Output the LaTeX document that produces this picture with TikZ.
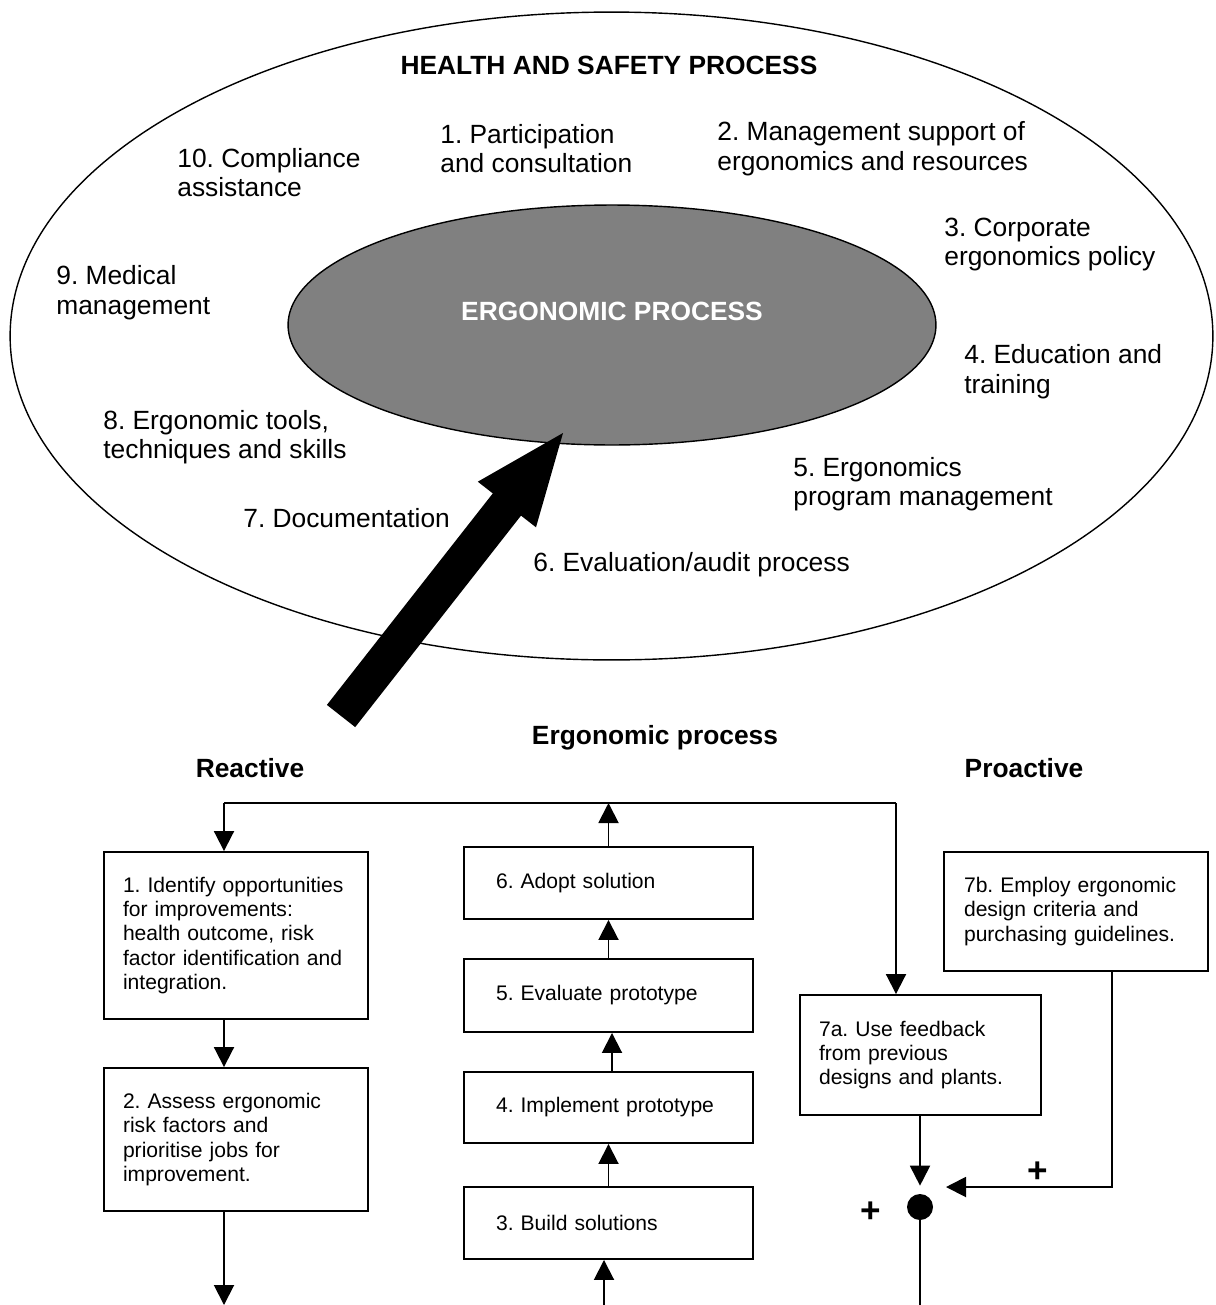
\documentclass[tikz,border=0pt]{standalone}
\usepackage{fontspec}
\setmainfont{Liberation Sans}
\usetikzlibrary{shapes.geometric,arrows.meta,calc}
\frenchspacing

\begin{document}
\begin{tikzpicture}
[x=0.02cm,y=-0.02cm,%
  txt/.style={anchor=west,align=left,inner sep=0pt,font=\fontsize{15}{16.8}\selectfont},%
  heading/.style={inner sep=0pt,font=\fontsize{15}{16.8}\selectfont\bfseries},%
  plus/.style={inner sep=0pt,font=\fontsize{20}{20}\selectfont\bfseries},%
  pbox/.style={draw,line width=1.1pt,align=left,inner ysep=0pt,font=\fontsize{12}{13.8}\selectfont},%
  midbox/.style={pbox,text width=4.5cm,inner xsep=0.64cm,minimum height=#1},%
  sidebox/.style={pbox,text width=4.52cm,inner xsep=0.38cm,minimum height=#1},%
  sumdot/.style={circle,fill,inner sep=0pt,minimum size=0.52cm},%
  arr/.style={-{Triangle[length=0.4cm,width=0.4cm]},line width=1.1pt}]
\useasboundingbox (0,0) rectangle (1215,1305);
\node[draw,ellipse,line width=0.8pt,inner sep=0pt,minimum width=24.06cm,minimum height=12.96cm] (hs) at (611.5,336) {};
\node[draw,ellipse,line width=0.8pt,fill=black!50,inner sep=0pt,minimum width=12.96cm,minimum height=4.8cm] (ergo) at (612,325) {};
\node[heading] (hstitle) at (609,65) {HEALTH AND SAFETY PROCESS};
\node[heading,text=white] (ergotitle) at (612,311) {ERGONOMIC PROCESS};
\node[txt] (e1) at (440,148.5) {1. Participation\\and consultation};
\node[txt] (e2) at (717,148.5) {2. Management support of\\ergonomics and resources};
\node[txt] (e3) at (944,244.5) {3. Corporate\\ergonomics policy};
\node[txt] (e4) at (964,371.5) {4. Education and\\training};
\node[txt] (e5) at (793,484) {5. Ergonomics\\program management};
\node[txt] (e6) at (533,565) {6. Evaluation/audit process};
\node[txt] (e7) at (243,518) {7. Documentation};
\node[txt] (e8) at (103,437) {8. Ergonomic tools,\\techniques and skills};
\node[txt] (e9) at (56,292.5) {9. Medical\\management};
\node[txt] (e10) at (177,172.5) {10. Compliance\\assistance};
\fill (326.9,704.9) -- (492.8,493.4) -- (477.8,481.7) -- (563,433) -- (536.0,527.3)
  -- (521.0,515.6) -- (355.2,727.1) -- cycle;
\node[heading] (eptitle) at (655,738) {Ergonomic process};
\node[heading] (reactive) at (250,768) {Reactive};
\node[heading] (proactive) at (1024,768) {Proactive};
\node[sidebox=3.34cm] (s1) at (236,935.5) {1. Identify opportunities\\for improvements:\\health outcome, risk\\factor identification and\\integration.};
\node[sidebox=2.86cm] (s2) at (236,1139.5) {2. Assess ergonomic\\risk factors and\\prioritise jobs for\\improvement.};
\node[midbox=1.44cm] (s6) at (608.5,883) {6. Adopt solution};
\node[midbox=1.46cm] (s5) at (608.5,995.5) {5. Evaluate prototype};
\node[midbox=1.42cm] (s4) at (608.5,1107.5) {4. Implement prototype};
\node[midbox=1.44cm] (s3) at (608.5,1223) {3. Build solutions};
\node[pbox,text width=4.06cm,inner xsep=0.38cm,minimum height=2.4cm] (s7a) at (920.5,1055) {7a. Use feedback\\from previous\\designs and plants.};
\node[pbox,text width=4.48cm,inner xsep=0.4cm,minimum height=2.38cm] (s7b) at (1076,911.5) {7b. Employ ergonomic\\design criteria and\\purchasing guidelines.};
\node[sumdot] (sum) at (920,1207) {};
\node[plus] (plusb) at (1038,1172) {+};
\node[plus] (plusa) at (871,1212) {+};
\coordinate (tl) at (224,803);
\coordinate (tr) at (896,803);
\coordinate (outl) at (224,1305);
\coordinate (inb) at (604,1305);
\coordinate (bend) at (1112,1187);
\coordinate (sumin) at (946,1187);
\draw[line width=1.1pt] (tl) -- (tr);
\draw[arr] (tl) -- (tl |- s1.north);
\draw[arr] (tr) -- (tr |- s7a.north);
\draw[arr] (tl |- s1.south) -- (tl |- s2.north);
\draw[arr] (tl |- s2.south) -- (outl);
\draw[arr] (inb) -- (inb |- s3.south);
\draw[arr] (s3.north) -- (s4.south);
\draw[arr] ($(s4.north)+(3.5,0)$) -- ($(s5.south)+(3.5,0)$);
\draw[arr] (s5.north) -- (s6.south);
\draw[arr] (s6.north) -- (s6.north |- tl);
\draw[arr,shorten >=0.16cm] (s7a.south -| sum) -- (sum.north);
\draw[arr] (bend |- s7b.south) -- (bend) -- (sumin);
\draw[line width=1.1pt] (sum.south) -- (sum.south |- outl);
\end{tikzpicture}
\end{document}
